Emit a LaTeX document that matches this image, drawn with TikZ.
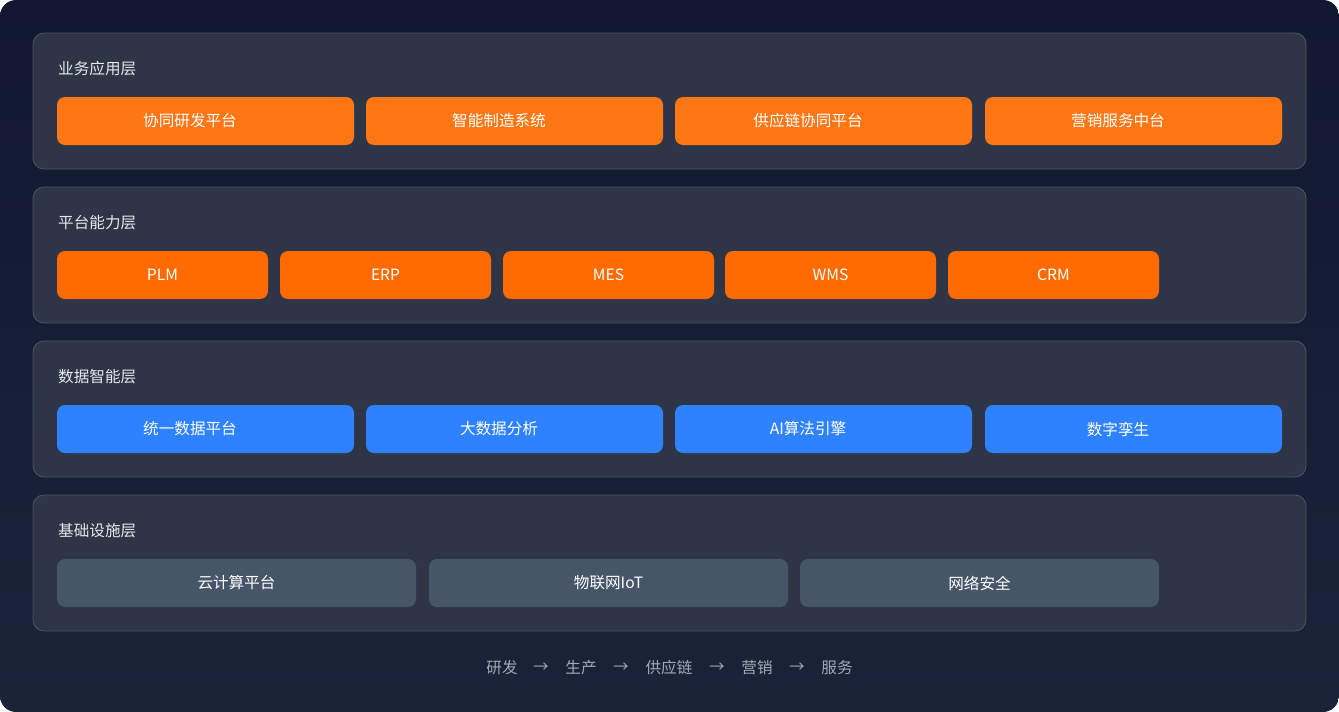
\documentclass[tikz,border=0pt]{standalone}
\usepackage{fontspec}
\setmainfont{Noto Sans CJK SC}
\definecolor{bgtop}{HTML}{111830}
\definecolor{bgbot}{HTML}{1A2439}
\definecolor{layerfill}{HTML}{2E3547}
\definecolor{layerline}{HTML}{4B5567}
\definecolor{titletext}{HTML}{E5E7EB}
\definecolor{orangeA}{HTML}{FF7614}
\definecolor{orangeB}{HTML}{FF6B00}
\definecolor{blueA}{HTML}{2F82FF}
\definecolor{grayA}{HTML}{475569}
\definecolor{flowtext}{HTML}{A3A9B4}
\begin{document}
\begin{tikzpicture}[x=1pt,y=-1pt,
  layerbox/.style={draw=layerline,line width=0.8pt,fill=layerfill,rounded corners=11pt},
  layertitle/.style={anchor=west,text=titletext,font=\fontsize{15.6}{18}\selectfont,inner sep=0pt},
  modbox/.style={rounded corners=8pt,text=white,font=\fontsize{15.6}{18}\selectfont,inner sep=0pt,minimum height=48pt},
  flow/.style={text=flowtext,font=\fontsize{15.6}{18}\selectfont,inner sep=0pt}
]
\useasboundingbox (0,0) rectangle (1339,712);
\fill[white] (0,0) rectangle (1339,712);
\shade[top color=bgtop,bottom color=bgbot,rounded corners=16pt] (0,0) rectangle (1339,712);

% layers
\foreach \y/\t/\n in {33/业务应用层/L1,187/平台能力层/L2,341/数据智能层/L3,495/基础设施层/L4}{
  \draw[layerbox] (33,\y) rectangle (1306,\y+136);
  \node[layertitle] (\n) at (58,\y+36) {\t};
}

% row 1
\foreach \x/\t/\n in {57/协同研发平台/a1,366/智能制造系统/a2,675/供应链协同平台/a3,985/营销服务中台/a4}{
  \node[modbox,fill=orangeA,minimum width=297pt] (\n) at (\x+148.5,121) {\t\hspace*{31pt}};
}
% row 2
\foreach \x/\t/\n in {57/PLM/b1,280/ERP/b2,503/MES/b3,725/WMS/b4,948/CRM/b5}{
  \node[modbox,fill=orangeB,minimum width=211pt] (\n) at (\x+105.5,275) {\t};
}
% row 3
\foreach \x/\t/\n in {57/统一数据平台/c1,366/大数据分析/c2,675/AI算法引擎/c3,985/数字孪生/c4}{
  \node[modbox,fill=blueA,minimum width=297pt] (\n) at (\x+148.5,429) {\t\hspace*{31pt}};
}
% row 4
\foreach \x/\t/\n in {57/云计算平台/d1,429/物联网IoT/d2,800/网络安全/d3}{
  \node[modbox,fill=grayA,minimum width=359pt] (\n) at (\x+179.5,583) {\t};
}

% flow
\node[flow] (f1) at (502,668) {研发};
\node[flow] (r1) at (541,668) {→};
\node[flow] (f2) at (581,668) {生产};
\node[flow] (r2) at (621,668) {→};
\node[flow] (f3) at (669,668) {供应链};
\node[flow] (r3) at (717,668) {→};
\node[flow] (f4) at (757,668) {营销};
\node[flow] (r4) at (797,668) {→};
\node[flow] (f5) at (837,668) {服务};
\end{tikzpicture}
\end{document}
